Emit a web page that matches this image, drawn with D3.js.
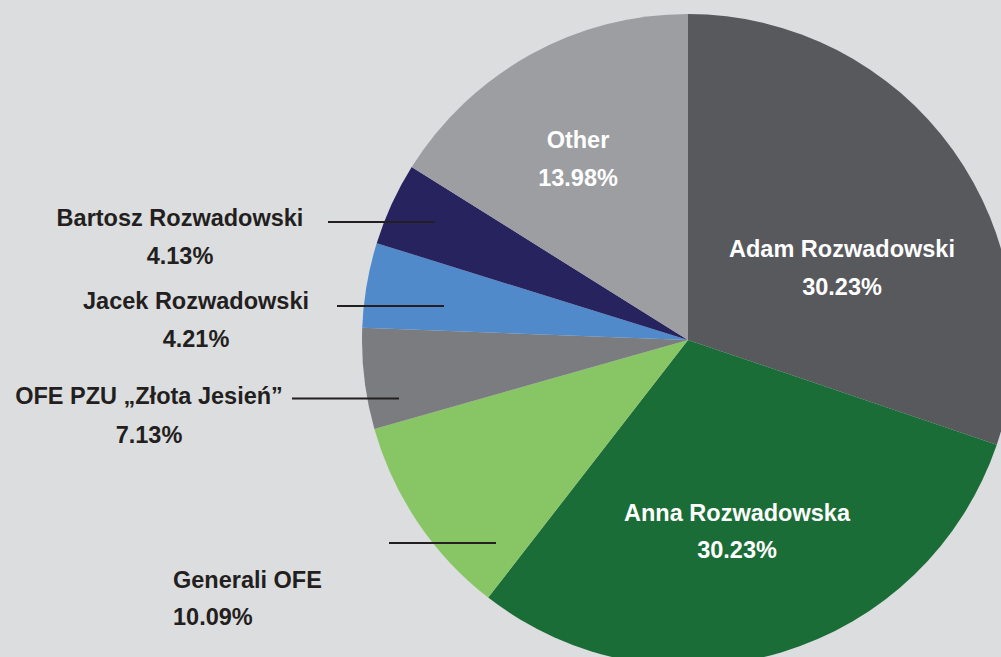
<!DOCTYPE html>
<html>
<head>
<meta charset="utf-8">
<script src="https://cdn.jsdelivr.net/npm/d3@7"></script>
<style>
  html, body { margin: 0; padding: 0; background: #dcdddf; }
  svg { display: block; }
</style>
</head>
<body>
<script>
'use strict';

// slices, clockwise from 12 o'clock
const holders = ['Adam Rozwadowski', 'Anna Rozwadowska', 'Generali OFE',
  'OFE PZU \u201EZ\u0142ota Jesie\u0144\u201D', 'Jacek Rozwadowski', 'Bartosz Rozwadowski', 'Other'];
// drawn slice sizes (%)
const shares = [30.2, 30.3, 10.1, 5.0, 4.2, 4.1, 16.1];
// percentages printed on the labels
const printed = ['30.23%', '30.23%', '10.09%', '7.13%', '4.21%', '4.13%', '13.98%'];
const colors = ['#58595d', '#1b6d37', '#88c665', '#7a7c80', '#508acb', '#27235f', '#9c9ea2'];

const W = 1001, H = 657;
const FONT = '"Liberation Sans", Arial, sans-serif';
const DARK = '#231f20';

const svg = d3.select('body').append('svg')
  .attr('width', W).attr('height', H)
  .attr('viewBox', `0 0 ${W} ${H}`);
svg.append('rect').attr('width', W).attr('height', H).attr('fill', '#dcdddf');

const cx = 688, cy = 340, R = 326;
const pie = d3.pie().sort(null).value(d => d);
const arc = d3.arc().innerRadius(0).outerRadius(R);

const g = svg.append('g').attr('transform', `translate(${cx},${cy})`);
g.selectAll('path')
  .data(pie(shares))
  .join('path')
  .attr('d', arc)
  .attr('fill', (d, i) => colors[i]);

// label layout: anchor x, name baseline, pct baseline, colour, leader line [x1, x2, y]
const layout = [
  { x: 842, y1: 257, y2: 295, anchor: 'middle', fill: '#fff' },
  { x: 737, y1: 521, y2: 558, anchor: 'middle', fill: '#fff' },
  { x: 173, y1: 588, y2: 625, anchor: 'start', fill: DARK, line: [389, 496, 543] },
  { x: 149, y1: 404, y2: 443, anchor: 'middle', fill: DARK, line: [292, 399, 398.5] },
  { x: 196, y1: 309, y2: 347, anchor: 'middle', fill: DARK, line: [337, 444, 306] },
  { x: 180, y1: 226, y2: 264, anchor: 'middle', fill: DARK, line: [328, 435, 222] },
  { x: 578, y1: 148, y2: 186, anchor: 'middle', fill: '#fff' }
];

holders.forEach((name, i) => {
  const L = layout[i];
  if (L.line) {
    svg.append('line')
      .attr('x1', L.line[0]).attr('x2', L.line[1])
      .attr('y1', L.line[2]).attr('y2', L.line[2])
      .attr('stroke', DARK).attr('stroke-width', 2);
  }
  [[name, L.y1], [printed[i], L.y2]].forEach(([t, y]) => {
    svg.append('text')
      .attr('x', L.x).attr('y', y)
      .attr('text-anchor', L.anchor)
      .attr('font-family', FONT)
      .attr('font-size', 23.5)
      .attr('font-weight', 700)
      .attr('fill', L.fill)
      .text(t);
  });
});
</script>
</body>
</html>
